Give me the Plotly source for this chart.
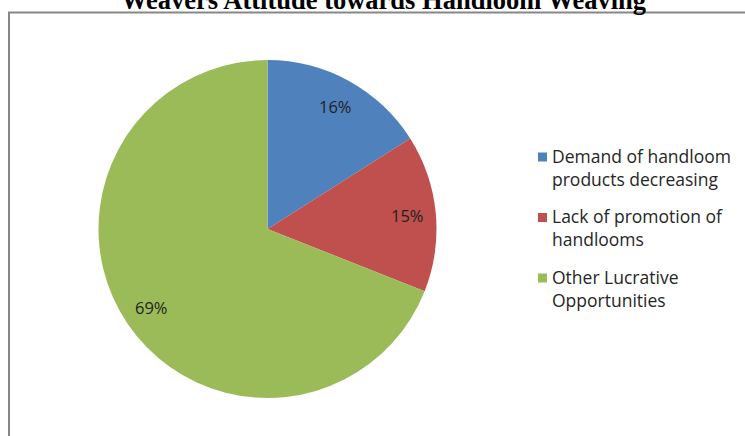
import math

import plotly.graph_objects as go

TITLE = "Weavers Attitude towards Handloom Weaving"
labels = [
    "Demand of handloom<br>products decreasing",
    "Lack of promotion of<br>handlooms",
    "Other Lucrative<br>Opportunities",
]
values = [16, 15, 69]
colors = ["#4F81BD", "#C0504D", "#9BBB59"]

W, H = 745, 436
# pie geometry in pixels (from top-left)
CX, CY, R = 267.5, 229, 169
LABEL_R = 0.83  # data labels sit at this fraction of the radius, like Excel's best fit

# legend block (Excel style: small square + wrapped text, wide gaps between entries)
LEG_X, LEG_Y0, LEG_STEP = 538, 157, 60
LEG_FONT = 17.5

fig = go.Figure()
fig.add_trace(
    go.Pie(
        labels=labels,
        values=values,
        sort=False,
        direction="clockwise",
        rotation=0,
        marker=dict(colors=colors),
        textinfo="none",
        hoverinfo="label+percent",
        showlegend=False,
        domain=dict(
            x=[(CX - R) / W, (CX + R) / W],
            y=[(H - CY - R) / H, (H - CY + R) / H],
        ),
    )
)

# percent labels, placed at each slice's mid angle
total = sum(values)
cum = 0
for v in values:
    mid = (cum + v / 2) / total * 2 * math.pi
    cum += v
    fig.add_annotation(
        text=f"{round(100 * v / total)}%",
        xref="paper",
        yref="paper",
        x=(CX + LABEL_R * R * math.sin(mid)) / W,
        y=(H - CY + LABEL_R * R * math.cos(mid)) / H,
        xanchor="center",
        yanchor="middle",
        showarrow=False,
        font=dict(family="Open Sans", size=16.5, color="#1f1f1f"),
    )

# legend
for i, (lab, col) in enumerate(zip(labels, colors)):
    yc = LEG_Y0 + i * (LEG_STEP + 0.5)
    fig.add_shape(
        type="rect",
        xref="paper",
        yref="paper",
        x0=LEG_X / W,
        x1=(LEG_X + 9) / W,
        y0=(H - yc - 4.5) / H,
        y1=(H - yc + 4.5) / H,
        line=dict(width=0),
        fillcolor=col,
    )
    fig.add_annotation(
        text=lab,
        xref="paper",
        yref="paper",
        x=(LEG_X + 12) / W,
        y=(H - yc + 0.65 * LEG_FONT + 4) / H,
        xanchor="left",
        yanchor="top",
        align="left",
        showarrow=False,
        font=dict(family="Open Sans", size=LEG_FONT, color="#262626"),
    )

fig.add_annotation(
    text="<b>" + TITLE + "</b>",
    xref="paper",
    yref="paper",
    x=383 / W,
    y=(H - 17) / H,
    xanchor="center",
    yanchor="bottom",
    showarrow=False,
    font=dict(family="Liberation Serif", size=26.5, color="black"),
)

# chart area border
fig.add_shape(
    type="rect",
    xref="paper",
    yref="paper",
    x0=9 / W,
    y0=-0.05,
    x1=1.05,
    y1=(H - 12.5) / H,
    line=dict(color="#878787", width=2),
    fillcolor="rgba(0,0,0,0)",
    layer="below",
)

fig.update_layout(
    width=W,
    height=H,
    margin=dict(l=0, r=0, t=0, b=0),
    paper_bgcolor="white",
    plot_bgcolor="white",
)

fig.write_html(
    "out.html",
    config={"displayModeBar": False},
    post_script="document.body.style.margin='0px';",
)
